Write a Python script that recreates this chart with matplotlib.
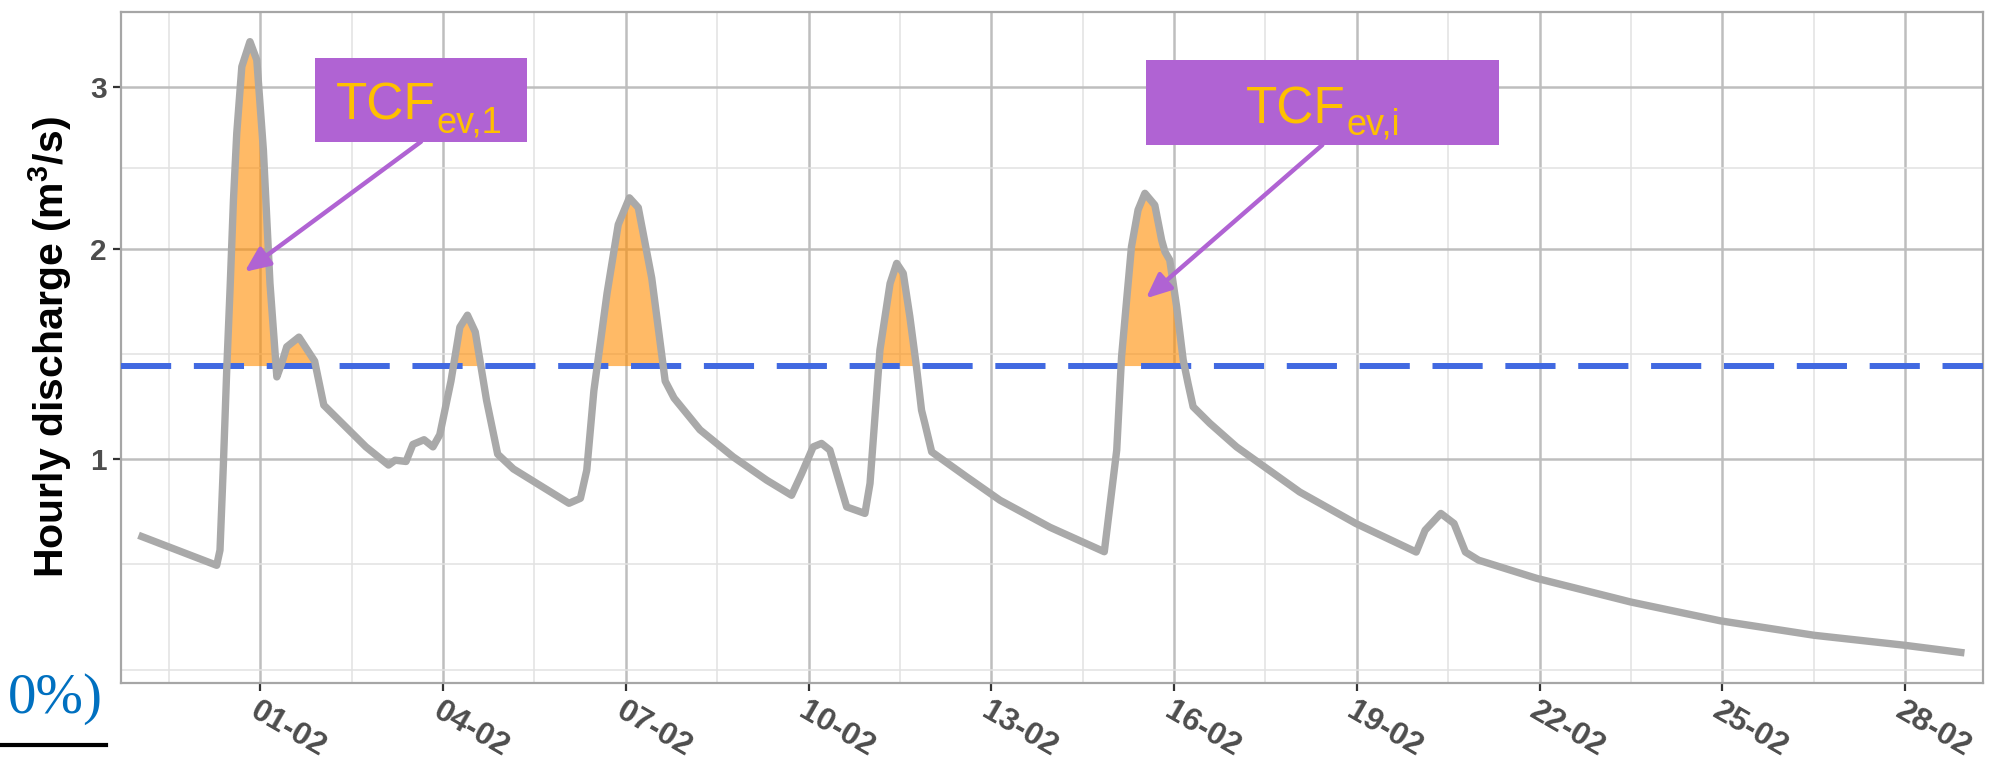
import numpy as np
import matplotlib
matplotlib.use("Agg")
import matplotlib.pyplot as plt
from matplotlib.lines import Line2D
from matplotlib.patches import Rectangle
from matplotlib.ticker import FixedLocator

plt.rcParams["font.family"] = ["Liberation Sans", "DejaVu Sans"]
plt.rcParams["mathtext.fontset"] = "custom"
plt.rcParams["mathtext.rm"] = "Liberation Sans"

# hourly discharge (m3/s), hours counted from 30-01 00:00
hours = [0, 30.8, 32.1, 33.4, 34.8, 36.1, 37.4, 38.7, 40.7, 43.9, 46.6, 49.2,
         51.8, 54.5, 56.4, 58.4, 63.2, 69.4, 73.0, 80.9, 89.6, 98.5, 101.1,
         105.4, 108.1, 112.5, 116.0, 118.7, 123.1, 126.6, 129.6, 132.7, 137.1,
         141.5, 147.7, 169.6, 174.1, 176.6, 179.4, 184.6, 189.0, 193.4, 196.9,
         202.2, 207.5, 211.0, 221.2, 234.3, 247.5, 257.3, 261.3, 265.8, 269.1,
         272.4, 279.0, 286.2, 288.2, 292.1, 296.1, 298.7, 301.3, 303.9, 306.5,
         308.5, 309.8, 312.5, 326.2, 339.4, 359.1, 380.5, 385.4, 387.3, 389.3,
         391.2, 393.8, 396.5, 400.4, 403.1, 404.4, 406.3, 409.0, 411.6, 413.5,
         415.5, 422.1, 432.6, 457.5, 479.6, 503.4, 506.9, 513.1, 518.3, 522.8,
         528.0, 550.9, 587.9, 623.3, 660.3, 695.6, 719.4]
discharge = [0.723, 0.626, 0.674, 0.970, 1.396, 1.793, 2.280, 2.693, 3.141,
             3.318, 3.188, 2.587, 1.811, 1.350, 1.412, 1.491, 1.538, 1.423,
             1.224, 1.139, 1.049, 0.977, 0.996, 0.991, 1.059, 1.078, 1.049,
             1.099, 1.331, 1.587, 1.647, 1.563, 1.246, 1.020, 0.962, 0.834,
             0.852, 0.957, 1.287, 1.760, 2.136, 2.293, 2.235, 1.840, 1.331,
             1.255, 1.119, 1.009, 0.919, 0.863, 0.945, 1.049, 1.063, 1.036,
             0.821, 0.798, 0.907, 1.475, 1.811, 1.919, 1.865, 1.639, 1.396,
             1.202, 1.146, 1.029, 0.932, 0.845, 0.750, 0.669, 1.036, 1.443,
             1.724, 2.010, 2.221, 2.320, 2.250, 2.048, 1.983, 1.937, 1.690,
             1.428, 1.320, 1.217, 1.146, 1.049, 0.875, 0.763, 0.668, 0.740,
             0.798, 0.763, 0.668, 0.642, 0.586, 0.517, 0.465, 0.427, 0.402,
             0.383]
threshold = 1.4

tick_dates = ["2020-02-01", "2020-02-04", "2020-02-07", "2020-02-10",
              "2020-02-13", "2020-02-16", "2020-02-19", "2020-02-22",
              "2020-02-25", "2020-02-28"]
tick_labels = ["01-02", "04-02", "07-02", "10-02", "13-02", "16-02",
               "19-02", "22-02", "25-02", "28-02"]
y_ticks = [1, 2, 3]

# event labels: subscript, arrow target (hours, discharge)
event_subs = ["ev,1", "ev,i"]
event_targets = [(41.8, 1.873), (396.9, 1.733)]

start = np.datetime64("2020-01-30T00:00")
t = start + (np.array(hours) * 60).astype("timedelta64[m]")
q = np.array(discharge)
ticks = np.array(tick_dates, dtype="datetime64[m]")

fig = plt.figure(figsize=(20.02, 7.65), dpi=100)
ax = fig.add_axes([0.06044, 0.10784, 0.93007, 0.87686])

ax.set_yscale("function", functions=(lambda v: np.sqrt(np.clip(v, 0, None)), np.square))

purple = "#B063D3"
gold = "#FFC000"

ax.fill_between(t, q, threshold, where=q > threshold, interpolate=True,
                color="darkorange", alpha=0.6, lw=0, zorder=2)
ax.axhline(threshold, color="#4169E1", lw=4.3, dashes=(8.4, 3.8), zorder=3)
ax.plot(t, q, color="#A9A9A9", lw=5.3, solid_joinstyle="round",
        solid_capstyle="butt", zorder=4)

ax.set_xlim(ticks[0] - np.timedelta64(int(54.9 * 60), "m"),
            ticks[-1] + np.timedelta64(int(30.7 * 60), "m"))
ax.set_ylim(0.3143, 3.536)

# minor grid halfway between breaks on the square-root scale
rb = np.sqrt(y_ticks)
rb = np.concatenate([[rb[0] - (rb[1] - rb[0])], rb])
y_minor = np.concatenate([[rb[0]], (rb[:-1] + rb[1:]) / 2]) ** 2
ax.set_yticks(y_ticks)
ax.set_yticklabels([str(v) for v in y_ticks], fontweight="bold")
ax.yaxis.set_minor_locator(FixedLocator(y_minor))

ax.set_xticks(ticks)
x_minor = np.concatenate([[ticks[0] - np.timedelta64(36, "h")],
                          ticks[:-1] + np.timedelta64(36, "h")])
ax.set_xticks(x_minor, minor=True)
ax.set_xticklabels(tick_labels, rotation=-30, ha="left", va="top",
                   rotation_mode="anchor", fontweight="bold")

ax.grid(which="major", color="#BEBEBE", lw=1.8)
ax.grid(which="minor", color="#E2E2E2", lw=1.1)
ax.set_axisbelow(True)
for s in ax.spines.values():
    s.set_color("#A6A6A6")
    s.set_linewidth(1.6)

ax.tick_params(which="major", length=6, width=1.6, color="#333333",
               labelcolor="#4D4D4D")
ax.tick_params(axis="y", which="major", pad=4, labelsize=21.5)
ax.tick_params(axis="x", which="major", pad=4, labelsize=23)
ax.tick_params(which="minor", length=0)

ax.set_ylabel(r"Hourly discharge (m$^\mathregular{3}$/s)", fontsize=29.5,
              fontweight="bold", color="black")
ax.yaxis.set_label_coords(-0.0255, 0.5)

# label boxes with arrows pointing into the exceedance areas
boxes = [(0.1043, 0.8062, 0.1136, 0.1248), (0.5503, 0.8013, 0.1897, 0.1267)]
# x where "TCF" ends and the subscript starts, main and subscript baselines
text_pos = [(0.1692, 0.8386, 0.8192), (0.6579, 0.8336, 0.8162)]
for sub, (th, tq), (bx, by, bw, bh), (tx, ty, sy) in zip(event_subs, event_targets,
                                                         boxes, text_pos):
    ax.add_patch(Rectangle((bx, by), bw, bh, transform=ax.transAxes,
                           facecolor=purple, edgecolor="none", zorder=5))
    ax.text(tx, ty, "TCF", transform=ax.transAxes, ha="right", va="baseline",
            fontsize=37, color=gold, zorder=6)
    ax.text(tx, sy, sub, transform=ax.transAxes, ha="left", va="baseline",
            fontsize=26, color=gold, zorder=6)
    tip = start + np.timedelta64(int(th * 60), "m")
    ax.annotate("", xy=(tip, tq), xycoords="data",
                xytext=(bx + bw / 2, by), textcoords="axes fraction",
                arrowprops=dict(arrowstyle="-|>,head_length=0.5,head_width=0.22",
                                color=purple, lw=3.2, mutation_scale=30,
                                shrinkA=0, shrinkB=0),
                zorder=6)

# fragment of the surrounding page
fig.text(0.004, 1 - 713 / 765, "0%)", color="#0070C0", fontsize=41,
         family="Liberation Serif", ha="left", va="baseline")
fig.add_artist(Line2D([0, 106 / 2002], [1 - 745 / 765] * 2, color="black",
                      lw=3, transform=fig.transFigure))

fig.savefig("out.png", dpi=100)
